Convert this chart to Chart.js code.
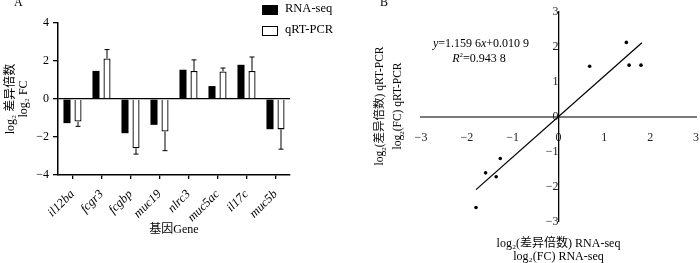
<!DOCTYPE html>
<html>
<head>
<meta charset="utf-8">
<script src="https://cdn.jsdelivr.net/npm/chart.js@4.4.1/dist/chart.umd.min.js"></script>
<style>
  body { margin: 0; background: #fff; }
  #wrap { position: relative; width: 700px; height: 263px; font-family: "Liberation Serif", "Noto Sans CJK SC", serif; color: #000; }
  #chartA { position: absolute; left: 0; top: 0; }
  #chartB { position: absolute; left: 350px; top: 0; }
  .lab { position: absolute; font-size: 12px; line-height: 14px; white-space: nowrap; }
  .leg { position: absolute; left: 262px; font-size: 12.5px; line-height: 14px; white-space: nowrap; }
  .leg span.box { position: absolute; left: 0; top: 2px; width: 14px; height: 8px; border: 1px solid #000; }
  .leg span.txt { position: absolute; left: 23px; top: -2px; }
  #ytitleB { position: absolute; left: 316px; top: 93px; width: 140px; height: 26px; font-size: 11.5px; line-height: 13px;
             text-align: center; white-space: nowrap; transform: rotate(-90deg); transform-origin: 50% 50%; }
</style>
</head>
<body>
<div id="wrap">
  <canvas id="chartA" width="350" height="263"></canvas>
  <canvas id="chartB" width="350" height="263"></canvas>
  <div class="lab" style="left:14px;top:-5px;">A</div>
  <div class="lab" style="left:380px;top:-5px;">B</div>
  <div id="legend"></div>
  <div id="ytitleB">log<sub style="font-size:7px;">2</sub>(差异倍数) qRT-PCR<br>log<sub style="font-size:7px;">2</sub>(FC) qRT-PCR</div>
  <div class="lab" style="left:429px;top:36px;width:104px;text-align:center;"><i>y</i>=1.159 6<i>x</i>+0.010 9</div>
  <div class="lab" style="left:429px;top:48px;width:100px;text-align:center;"><i>R</i><sup style="font-size:7px;">2</sup>=0.943 8</div>
</div>
<script>
// genes (categories)
const genes = ['il12ba', 'fcgr3', 'fcgbp', 'muc19', 'nlrc3', 'muc5ac', 'il17c', 'muc5b'];
// log2 FC values
const rnaSeq = [-1.27, 1.48, -1.80, -1.36, 1.54, 0.68, 1.80, -1.59];
const qrtPcr = [-1.19, 2.13, -2.59, -1.71, 1.48, 1.45, 1.48, -1.60];
const qrtErr = [0.25, 0.47, 0.31, 1.01, 0.58, 0.18, 0.73, 1.04];
// regression line ends (panel B)
const fitX = [-1.80, 1.82];
const fitY = [-2.08, 2.12];

const serif = "'Liberation Serif', 'Noto Sans CJK SC', serif";
const minus = v => String(v).replace('-', '\u2212');

// legend for panel A
const legendColors = ['#000', '#fff'];
['RNA-seq', 'qRT-PCR'].forEach((t, i) => {
  const d = document.createElement('div');
  d.className = 'leg';
  d.style.top = (3 + i * 21) + 'px';
  d.innerHTML = '<span class="box" style="background:' + legendColors[i] + '"></span><span class="txt">' + t + '</span>';
  document.getElementById('legend').appendChild(d);
});

// error bars on the qRT-PCR bars
const errorBars = {
  id: 'errorBars',
  afterDatasetsDraw(chart) {
    const ctx = chart.ctx, y = chart.scales.y;
    chart.data.datasets.forEach((ds, di) => {
      if (!ds.errors) return;
      chart.getDatasetMeta(di).data.forEach((bar, i) => {
        const v = ds.data[i], e = ds.errors[i];
        const end = y.getPixelForValue(v < 0 ? v - e : v + e);
        ctx.save();
        ctx.strokeStyle = '#000';
        ctx.lineWidth = 1;
        ctx.beginPath();
        ctx.moveTo(bar.x, bar.y);
        ctx.lineTo(bar.x, end);
        ctx.moveTo(bar.x - 2.5, end);
        ctx.lineTo(bar.x + 2.5, end);
        ctx.stroke();
        ctx.restore();
      });
    });
  }
};

// Panel A: bar chart
new Chart(document.getElementById('chartA'), {
  type: 'bar',
  data: {
    labels: genes,
    datasets: [
      { label: 'RNA-seq', data: rnaSeq, backgroundColor: '#000', borderWidth: 0 },
      { label: 'qRT-PCR', data: qrtPcr, backgroundColor: '#fff', borderColor: '#000', borderWidth: 1.3, errors: qrtErr }
    ]
  },
  options: {
    responsive: false,
    animation: false,
    categoryPercentage: 0.76,
    barPercentage: 0.64,
    layout: { padding: { top: 23, right: 60, bottom: 22, left: 0 } },
    plugins: { legend: { display: false }, tooltip: { enabled: false } },
    scales: {
      x: {
        grid: { offset: false, drawOnChartArea: false, color: '#000', tickLength: 4, lineWidth: 1.3 },
        border: { color: '#000', width: 1.5 },
        ticks: { color: '#000', font: { family: serif, size: 12.5, style: 'italic' }, minRotation: 45, maxRotation: 45, padding: 8 },
        title: { display: true, text: '基因Gene', color: '#000', font: { family: serif, size: 12 } },
        afterFit(s) { s.height = 66; }
      },
      y: {
        min: -4, max: 4,
        ticks: { stepSize: 2, color: '#000', padding: 4, font: { family: serif, size: 12 }, callback: v => minus(v) },
        grid: { color: c => c.tick && c.tick.value === 0 ? '#000' : 'rgba(0,0,0,0)', tickColor: '#000', tickLength: 5, lineWidth: 1.3 },
        border: { color: '#000', width: 1.5 },
        title: { display: true, text: ['log\u2082 差异倍数', 'log\u2082 FC'], color: '#000', font: { family: serif, size: 12, lineHeight: 1.1 } },
        afterFit(s) { s.width = 58; }
      }
    }
  },
  plugins: [errorBars]
});

// Panel B: scatter with fitted line, axes crossing at origin
new Chart(document.getElementById('chartB'), {
  type: 'scatter',
  data: {
    datasets: [
      { label: 'genes', data: rnaSeq.map((x, i) => ({ x: x, y: qrtPcr[i] })), pointRadius: 1.8, backgroundColor: '#000', borderWidth: 0 },
      { type: 'line', label: 'fit', data: fitX.map((x, i) => ({ x: x, y: fitY[i] })), borderColor: '#000', borderWidth: 1.3, pointRadius: 0 }
    ]
  },
  options: {
    responsive: false,
    animation: false,
    layout: { padding: { top: 12, right: 4, bottom: 0, left: 71 } },
    plugins: {
      legend: { display: false },
      tooltip: { enabled: false },
      title: {
        display: true, position: 'bottom', fullSize: false,
        text: ['log\u2082(差异倍数) RNA-seq', 'log\u2082(FC) RNA-seq'],
        color: '#000', font: { family: serif, size: 12, weight: 'normal', lineHeight: 1.05 },
        padding: { top: 16, bottom: 0 }
      }
    },
    scales: {
      x: {
        type: 'linear', min: -3, max: 3, position: { y: 0 },
        grid: { display: false },
        border: { color: '#7a7a7a', width: 2 },
        ticks: { stepSize: 1, color: '#222', padding: 6, font: { family: serif, size: 12 }, callback: v => minus(v) },
        afterFit(s) { s.paddingLeft = 0; s.paddingRight = 0; }
      },
      y: {
        type: 'linear', min: -3, max: 3, position: { x: 0 },
        grid: { display: false },
        border: { color: '#000', width: 1.3 },
        ticks: { stepSize: 1, color: '#222', padding: 5, font: { family: serif, size: 12 }, callback: v => minus(v) },
        afterFit(s) { s.paddingTop = 0; s.paddingBottom = 0; }
      }
    }
  }
});
</script>
</body>
</html>
